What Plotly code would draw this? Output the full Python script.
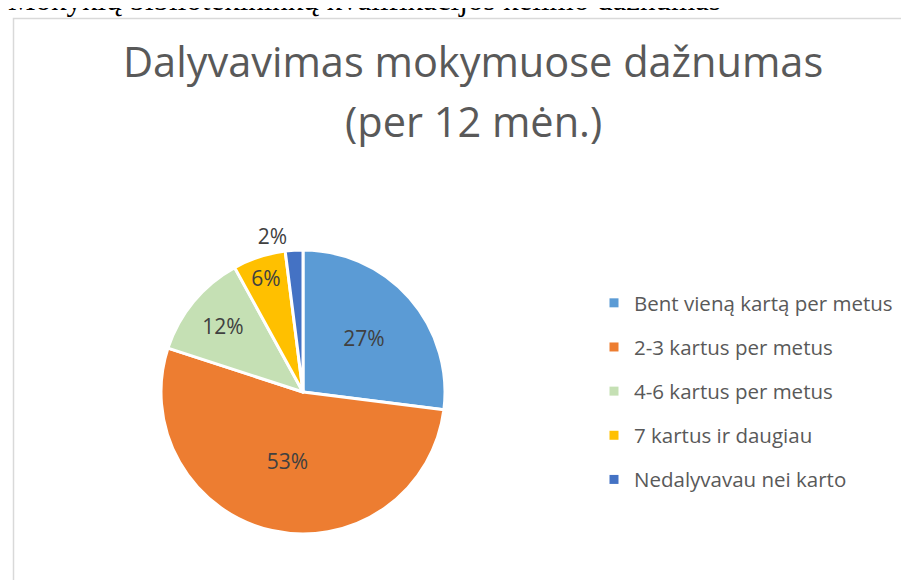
import plotly.graph_objects as go

categories = [
    "Bent vieną kartą per metus",
    "2-3 kartus per metus",
    "4-6 kartus per metus",
    "7 kartus ir daugiau",
    "Nedalyvavau nei karto",
]
shares = [27, 53, 12, 6, 2]
colors = ["#5B9BD5", "#ED7D31", "#C5E0B4", "#FFC000", "#4472C4"]

title_lines = ["Dalyvavimas mokymuose dažnumas", "(per 12 mėn.)"]
page_caption = "Mokyklų bibliotekininkų kvalifikacijos kėlimo dažnumas"

W, H = 909, 580

fig = go.Figure()

fig.add_trace(
    go.Pie(
        labels=categories,
        values=shares,
        sort=False,
        direction="clockwise",
        rotation=0,
        marker=dict(colors=colors, line=dict(color="white", width=3)),
        texttemplate="%{percent:.0%}",
        textposition=["inside", "inside", "inside", "inside", "outside"],
        insidetextorientation="horizontal",
        textfont=dict(size=21, color="#404040", family="Open Sans"),
        showlegend=False,
        domain=dict(x=[153 / W, 437 / W], y=[(H - 526) / H, (H - 242) / H]),
        hoverinfo="label+percent",
    )
)

# legend entries, one group each so they can be spaced out
for name, c in zip(categories, colors):
    fig.add_trace(
        go.Scatter(
            x=[None], y=[None],
            mode="markers",
            marker=dict(symbol="square", size=9, color=c),
            name=name,
            legendgroup=name,
        )
    )

fig.update_layout(
    width=W,
    height=H,
    margin=dict(l=0, r=0, t=0, b=0),
    paper_bgcolor="white",
    plot_bgcolor="white",
    xaxis=dict(visible=False),
    yaxis=dict(visible=False),
    legend=dict(
        x=586 / W,
        y=1 - 275 / H,
        xanchor="left",
        yanchor="top",
        font=dict(size=20.5, color="#595959", family="Open Sans"),
        tracegroupgap=14.5,
        itemwidth=30,
        bgcolor="rgba(0,0,0,0)",
    ),
    shapes=[
        dict(
            type="rect", xref="paper", yref="paper",
            x0=5.5 / W, x1=1.05, y0=-0.05, y1=1 - 10.5 / H,
            line=dict(color="#D9D9D9", width=1.5),
            fillcolor="rgba(0,0,0,0)",
        )
    ],
)

# chart title, two lines with Excel-like spacing
for i, line in enumerate(title_lines):
    fig.add_annotation(
        text=line,
        xref="paper", yref="paper",
        x=465 / W, y=1 - (53 + 60 * i) / H,
        xanchor="center", yanchor="middle",
        showarrow=False,
        font=dict(size=41.5, color="#595959", family="Open Sans"),
    )

# caption of the surrounding document, cut off at the top edge
fig.add_annotation(
    text=page_caption,
    xref="paper", yref="paper",
    x=-2 / W, y=1 + 8 / H,
    xanchor="left", yanchor="middle",
    showarrow=False,
    font=dict(size=31, color="black", family="Liberation Serif"),
)

fig.write_html("out.html")
